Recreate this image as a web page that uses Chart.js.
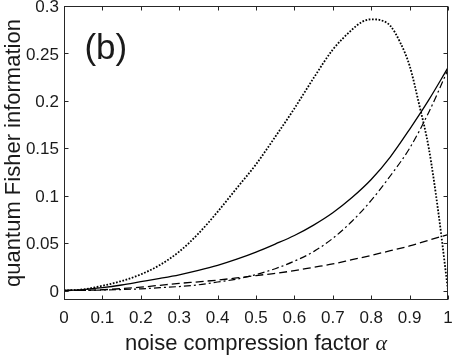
<!DOCTYPE html>
<html>
<head>
<meta charset="utf-8">
<script src="https://cdn.jsdelivr.net/npm/chart.js@4/dist/chart.umd.min.js"></script>
<style>
  html, body { margin: 0; padding: 0; background: #fff; }
  #wrap { width: 452px; height: 356px; }
</style>
</head>
<body>
<div id="wrap"><canvas id="qfiChart" width="452" height="356"></canvas></div>
<script>
// noise compression factor (x) and QFI values
const alpha = [0, 0.05, 0.1, 0.15, 0.2, 0.25, 0.3, 0.35, 0.4, 0.45, 0.5,
  0.55, 0.6, 0.65, 0.7, 0.75, 0.8, 0.85, 0.9, 0.95, 1];
const solidQFI = [0, 0.001, 0.003, 0.0058, 0.0093, 0.0128, 0.0166, 0.0212, 0.0265, 0.033, 0.0405,
  0.049, 0.058, 0.069, 0.082, 0.098, 0.117, 0.141, 0.170, 0.201, 0.235];
const dashedQFI = [0, 0.0002, 0.0008, 0.002, 0.0035, 0.0055, 0.0075, 0.0092, 0.011, 0.0133, 0.0158,
  0.018, 0.021, 0.0245, 0.028, 0.0325, 0.037, 0.042, 0.047, 0.053, 0.059];
const dashDotQFI = [0, 0.0001, 0.0005, 0.001, 0.0018, 0.003, 0.0042, 0.006, 0.009, 0.012, 0.0168,
  0.023, 0.031, 0.041, 0.055, 0.073, 0.095, 0.121, 0.150, 0.188, 0.233];

// dotted curve needs a few more points near the peak and the drop
const dottedAlpha = [0, 0.05, 0.1, 0.15, 0.2, 0.25, 0.3, 0.35, 0.4, 0.45, 0.5, 0.55, 0.6, 0.65, 0.7,
  0.75, 0.775, 0.8, 0.825, 0.85, 0.875, 0.9, 0.925, 0.95, 0.975, 1];
const dottedQFI = [0, 0.0012, 0.005, 0.010, 0.017, 0.027, 0.041, 0.060, 0.083, 0.108, 0.133, 0.162, 0.192, 0.224, 0.254,
  0.275, 0.283, 0.286, 0.285, 0.279, 0.262, 0.237, 0.196, 0.150, 0.082, 0];

const xTicks = [0, 0.1, 0.2, 0.3, 0.4, 0.5, 0.6, 0.7, 0.8, 0.9, 1];
const yTicks = [0, 0.05, 0.1, 0.15, 0.2, 0.25, 0.3];

const axisColor = '#262626';
const textColor = '#1a1a1a';
const sans = '"Liberation Sans", Arial, sans-serif';

function pts(xs, ys) {
  return xs.map((v, i) => ({ x: v, y: ys[i] }));
}

function curve(data, width, dash) {
  return {
    data: data,
    borderColor: '#000',
    borderWidth: width,
    borderDash: dash,
    pointRadius: 0,
    fill: false,
    cubicInterpolationMode: 'monotone'
  };
}

// MATLAB style box with inward ticks, panel label and x title
const boxPlugin = {
  id: 'matlabBox',
  afterDatasetsDraw(chart) {
    const { ctx, chartArea: a, scales: { x, y } } = chart;
    const L = Math.round(a.left) + 0.5, R = Math.round(a.right) - 0.5;
    const T = Math.round(a.top) + 0.5, B = Math.round(a.bottom) - 0.5;
    ctx.save();
    ctx.strokeStyle = axisColor;
    ctx.lineWidth = 1;
    ctx.strokeRect(L, T, R - L, B - T);
    ctx.beginPath();
    xTicks.forEach(v => {
      const px = Math.round(x.getPixelForValue(v)) + 0.5;
      ctx.moveTo(px, B); ctx.lineTo(px, B - 4);
      ctx.moveTo(px, T); ctx.lineTo(px, T + 4);
    });
    yTicks.forEach(v => {
      const py = Math.round(y.getPixelForValue(v)) + 0.5;
      ctx.moveTo(L, py); ctx.lineTo(L + 4, py);
      ctx.moveTo(R, py); ctx.lineTo(R - 4, py);
    });
    ctx.stroke();

    ctx.fillStyle = textColor;
    ctx.font = '35px ' + sans;
    ctx.textAlign = 'center';
    ctx.textBaseline = 'middle';
    ctx.fillText('(b)', x.getPixelForValue(0.109), y.getPixelForValue(0.254));

    // x title: sans text followed by italic serif alpha
    const t1 = 'noise compression factor ';
    const t2 = '\u03b1';
    ctx.font = '22px ' + sans;
    const w1 = ctx.measureText(t1).width;
    ctx.font = 'italic 22px "Liberation Serif", "DejaVu Serif", serif';
    const w2 = ctx.measureText(t2).width;
    const cx = (a.left + a.right) / 2;
    const base = x.bottom - 6.5;
    const start = cx - (w1 + w2) / 2;
    ctx.textAlign = 'left';
    ctx.textBaseline = 'alphabetic';
    ctx.font = '22px ' + sans;
    ctx.fillText(t1, start, base);
    ctx.font = 'italic 22px "Liberation Serif", "DejaVu Serif", serif';
    ctx.fillText(t2, start + w1, base);
    ctx.restore();
  }
};

const ctx = document.getElementById('qfiChart').getContext('2d');

new Chart(ctx, {
  type: 'line',
  data: {
    datasets: [
      curve(pts(alpha, solidQFI), 1.3, []),
      curve(pts(alpha, dashedQFI), 1.3, [8, 4]),
      curve(pts(alpha, dashDotQFI), 1.2, [7, 3, 2, 3]),
      curve(pts(dottedAlpha, dottedQFI), 1.8, [1.7, 1.6])
    ]
  },
  options: {
    responsive: false,
    animation: false,
    devicePixelRatio: 1,
    layout: { padding: { top: 6, right: 4, left: 0, bottom: 0 } },
    plugins: { legend: { display: false }, tooltip: { enabled: false } },
    scales: {
      x: {
        type: 'linear',
        min: 0,
        max: 1,
        grid: { display: false, drawTicks: false },
        border: { display: false },
        afterBuildTicks: s => { s.ticks = xTicks.map(v => ({ value: v })); },
        afterFit: s => { s.height = 56; s.paddingLeft = 0; s.paddingRight = 0; },
        ticks: {
          padding: 8,
          color: textColor,
          font: { family: sans, size: 17 },
          maxRotation: 0,
          autoSkip: false,
          callback: v => String(+v.toFixed(2))
        }
      },
      y: {
        type: 'linear',
        min: -0.01,
        max: 0.3,
        grid: { display: false, drawTicks: false },
        border: { display: false },
        afterBuildTicks: s => { s.ticks = yTicks.map(v => ({ value: v })); },
        afterFit: s => { s.width = 64; s.paddingTop = 0; s.paddingBottom = 0; },
        title: {
          display: true,
          text: 'quantum Fisher information',
          color: textColor,
          font: { family: sans, size: 22 },
          padding: { top: 1, bottom: 0 }
        },
        ticks: {
          padding: 5,
          labelOffset: 1.5,
          color: textColor,
          font: { family: sans, size: 17 },
          autoSkip: false,
          callback: v => String(+v.toFixed(2))
        }
      }
    }
  },
  plugins: [boxPlugin]
});
</script>
</body>
</html>
